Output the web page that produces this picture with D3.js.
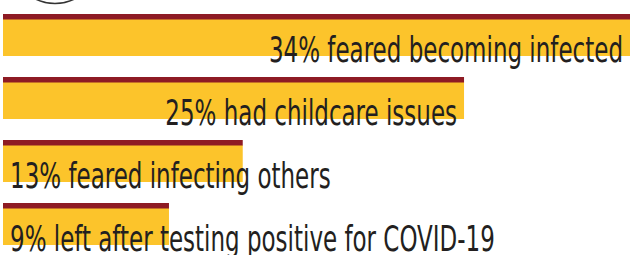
<!DOCTYPE html>
<html>
<head>
<meta charset="utf-8">
<script src="https://cdn.jsdelivr.net/npm/d3@7"></script>
<style>
  body { margin: 0; background: #fff; }
  svg { display: block; }
</style>
</head>
<body>
<div id="chart"></div>
<script>
const width = 632
const height = 255

// data
const categories = ['feared becoming infected', 'had childcare issues', 'feared infecting others', 'left after testing positive for COVID-19'];
const values = [34, 25, 13, 9];

const red = '#8e1b24'
const yellow = '#fcc42b'
const ink = '#231f20'
const squeeze = 0.71 // condensed look

const svg = d3.select('#chart')
	.append('svg')
	.attr('width', width)
	.attr('height', height);

const data = categories.map((c, i) => ({cat: c, value: values[i], label: `${values[i]}% ${c}`}));

const x = d3.scaleLinear()
	.domain([0, d3.max(values)])
	.range([3, 630]);

const y = d3.scaleBand()
	.domain(categories)
	.range([14, 245])
	.paddingInner(1 / 3)
	.paddingOuter(0);

// cut-off circle at the top
svg.append('circle')
	.attr('cx', 55)
	.attr('cy', -40)
	.attr('r', 43.5)
	.attr('fill', 'none')
	.attr('stroke', '#333')
	.attr('stroke-width', 1.5);

const rows = svg.selectAll('g.row')
	.data(data)
	.enter()
	.append('g')
		.attr('class', 'row');

// yellow body
rows.append('rect')
	.attr('x', x(0))
	.attr('y', d => y(d.cat) + 5)
	.attr('width', d => x(d.value) - x(0))
	.attr('height', y.bandwidth() - 5)
	.attr('fill', yellow);

// red top stripe
rows.append('rect')
	.attr('x', x(0))
	.attr('y', d => y(d.cat))
	.attr('width', d => x(d.value) - x(0))
	.attr('height', 5.5)
	.attr('fill', red);

const labels = rows.append('text')
	.text(d => d.label)
	.attr('y', d => y(d.cat) + 48)
	.attr('fill', ink)
	.style('font-family', '"DejaVu Sans Condensed", "DejaVu Sans", sans-serif')
	.style('font-size', '36px');

labels.each(function(d) {
	const t = d3.select(this);
	const w = this.getComputedTextLength() * squeeze;
	t.attr('textLength', w).attr('lengthAdjust', 'spacingAndGlyphs');
	const barW = x(d.value) - x(0);
	if (w < barW - 20) {
		t.attr('x', x(d.value) - 7 - w);
	} else {
		t.attr('x', 10);
	}
});
</script>
</body>
</html>
